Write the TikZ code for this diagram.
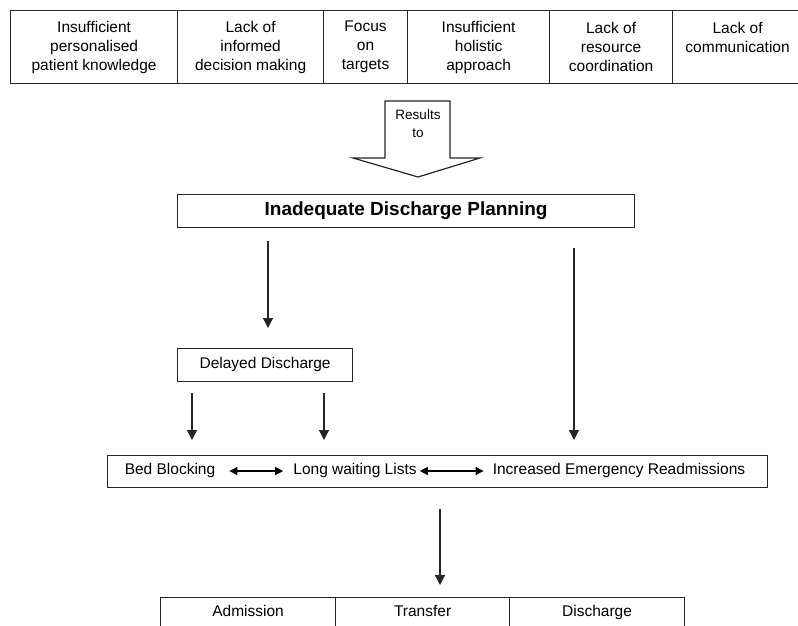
\documentclass[tikz,border=0pt]{standalone}
\usepackage{fontspec}
\setmainfont{Liberation Sans}
\usetikzlibrary{arrows.meta}
\begin{document}
\begin{tikzpicture}[x=1pt,y=-1pt,
  box/.style={draw=black!85, line width=1.2pt, inner sep=0pt, anchor=north west, align=center,
    font=\fontsize{15.5}{19}\selectfont},
  plain/.style={inner sep=0pt, font=\fontsize{15.5}{19}\selectfont},
  arr/.style={draw=black!85, line width=1.2pt, -{Triangle[length=10pt,width=10pt]}},
  darr/.style={draw=black, line width=1.2pt, {Triangle[length=8pt,width=8pt]}-{Triangle[length=8pt,width=8pt]}}]
\useasboundingbox (0,0) rectangle (798,625);
\begin{scope}
\clip (0,0) rectangle (798,625);
% top table
\node[box, minimum width=167, minimum height=73] (c1) at (10,10) {Insufficient\\personalised\\patient knowledge};
\node[box, minimum width=146, minimum height=73] (c2) at (177,10) {Lack of\\informed\\decision making};
\node[box, minimum width=84, minimum height=73] (c3) at (323,10) {Focus\\on\\targets};
\node[box, minimum width=142, minimum height=73] (c4) at (407,10) {Insufficient\\holistic\\approach};
\node[box, minimum width=123, minimum height=73] (c5) at (549,10) {Lack of\\resource\\coordination};
\node[box, minimum width=130, minimum height=73] (c6) at (672,10) {Lack of\\communication\\\mbox{}};
% big arrow
\draw[draw=black!85, line width=1.2pt, fill=white]
  (385,101) -- (450,101) -- (450,158) -- (480,158) -- (418,177) -- (353,158) -- (385,158) -- cycle;
\node[align=center, inner sep=0pt, font=\fontsize{13.5}{18}\selectfont] (res) at (418,124) {Results\\to};
% main box
\node[box, minimum width=457, minimum height=33, font=\fontsize{19}{22}\selectfont\bfseries] (idp) at (177,194) {Inadequate Discharge Planning};
% delayed discharge
\node[box, minimum width=175, minimum height=33, text height=11pt, text depth=3.5pt] (dd) at (177,348) {Delayed Discharge};
% row box
\node[box, minimum width=660, minimum height=32] (row) at (107,455) {};
\node[plain, text height=11pt, text depth=3.5pt] (bb) at (170,471) {Bed Blocking};
\node[plain, text height=11pt, text depth=3.5pt] (lw) at (355,471) {Long waiting Lists};
\node[plain, text height=11pt, text depth=3.5pt] (ie) at (619,471) {Increased Emergency Readmissions};
% bottom table
\node[box, minimum width=175, minimum height=30, text height=11pt, text depth=3.5pt] (ad) at (160,597) {Admission};
\node[box, minimum width=174, minimum height=30, text height=11pt, text depth=3.5pt] (tr) at (335,597) {Transfer};
\node[box, minimum width=175, minimum height=30, text height=11pt, text depth=3.5pt] (di) at (509,597) {Discharge};
% connectors
\coordinate (a1) at ([xshift=91pt,yshift=-13pt]idp.south west);
\draw[arr, shorten >=20pt] (a1) -- (a1 |- dd.north);
\coordinate (a2) at ([xshift=397pt,yshift=-20pt]idp.south west);
\draw[arr, shorten >=15pt] (a2) -- (a2 |- row.north);
\coordinate (a3) at ([xshift=15pt,yshift=-11pt]dd.south west);
\draw[arr, shorten >=15pt] (a3) -- (a3 |- row.north);
\coordinate (a4) at ([xshift=147pt,yshift=-11pt]dd.south west);
\draw[arr, shorten >=15pt] (a4) -- (a4 |- row.north);
\coordinate (a5) at ([xshift=333pt,yshift=-21pt]row.south west);
\draw[arr, shorten >=12pt] (a5) -- (a5 |- tr.north);
\draw[darr, shorten <=14pt, shorten >=10pt] (bb.east) -- (lw.west);
\draw[darr, shorten <=3pt, shorten >=9pt] (lw.east) -- (ie.west);
\end{scope}
\end{tikzpicture}
\end{document}
